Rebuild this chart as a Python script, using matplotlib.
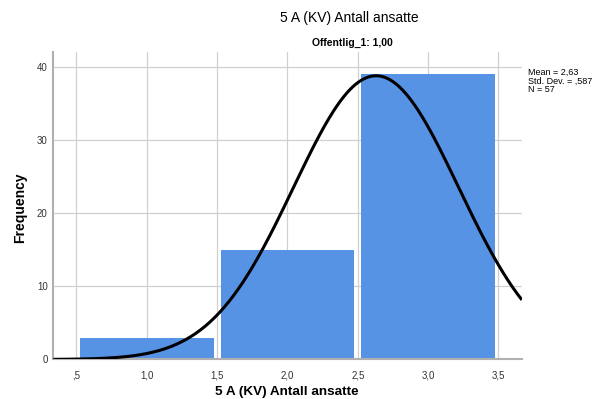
import matplotlib.pyplot as plt
import numpy as np

plt.rcParams['font.family'] = ['Liberation Sans', 'DejaVu Sans']

# histogram bins (centres) and counts
bin_centres = [1.0, 2.0, 3.0]
counts = [3, 15, 39]
# reported statistics for the normal curve
mean = 2.63
std = 0.587
n = 57
tick_vals = [0.5, 1.0, 1.5, 2.0, 2.5, 3.0, 3.5]
tick_labels = [",5", "1,0", "1,5", "2,0", "2,5", "3,0", "3,5"]

fig = plt.figure(figsize=(6.07, 3.99), dpi=100)
ax = fig.add_axes([0.0878, 0.0990, 0.772, 0.771])

ax.bar(bin_centres, counts, width=0.95, color='#5793e4', linewidth=0, zorder=2)

xs = np.linspace(0.335, 3.667, 300)
ys = n * 1.0 / (std * np.sqrt(2 * np.pi)) * np.exp(-0.5 * ((xs - mean) / std) ** 2)
ax.plot(xs, ys, color='black', lw=2.2, zorder=3, solid_capstyle='butt')

ax.set_xlim(0.335, 3.667)
ax.set_ylim(0, 42)
ax.set_xticks(tick_vals)
ax.set_xticklabels(tick_labels)
ax.set_yticks([0, 10, 20, 30, 40])
ax.tick_params(length=0, labelsize=7, colors='#333333', pad=8)
ax.tick_params(axis='y', pad=4)
ax.grid(True, color='#d0d0d0', lw=0.9, zorder=0)
ax.set_axisbelow(True)
for s in ['top', 'right']:
    ax.spines[s].set_visible(False)
for s in ['left', 'bottom']:
    ax.spines[s].set_color('#b0b0b0')
    ax.spines[s].set_linewidth(1.5)

fig.text(0.472, 0.018, '5 A (KV) Antall ansatte', fontsize=9.7, fontweight='bold', ha='center', va='center')
fig.text(0.033, 0.48, 'Frequency', fontsize=10, fontweight='bold', ha='center', va='center', rotation=90)

fig.text(0.575, 0.955, '5 A (KV) Antall ansatte', fontsize=10, ha='center', va='center')
fig.text(0.58, 0.893, 'Offentlig_1: 1,00', fontsize=7.5, fontweight='bold', ha='center', va='center')
fig.text(0.87, 0.83, 'Mean = 2,63\nStd. Dev. = ,587\nN = 57', fontsize=6.5, ha='left', va='top', linespacing=0.95)

fig.savefig('out.png', dpi=100)
